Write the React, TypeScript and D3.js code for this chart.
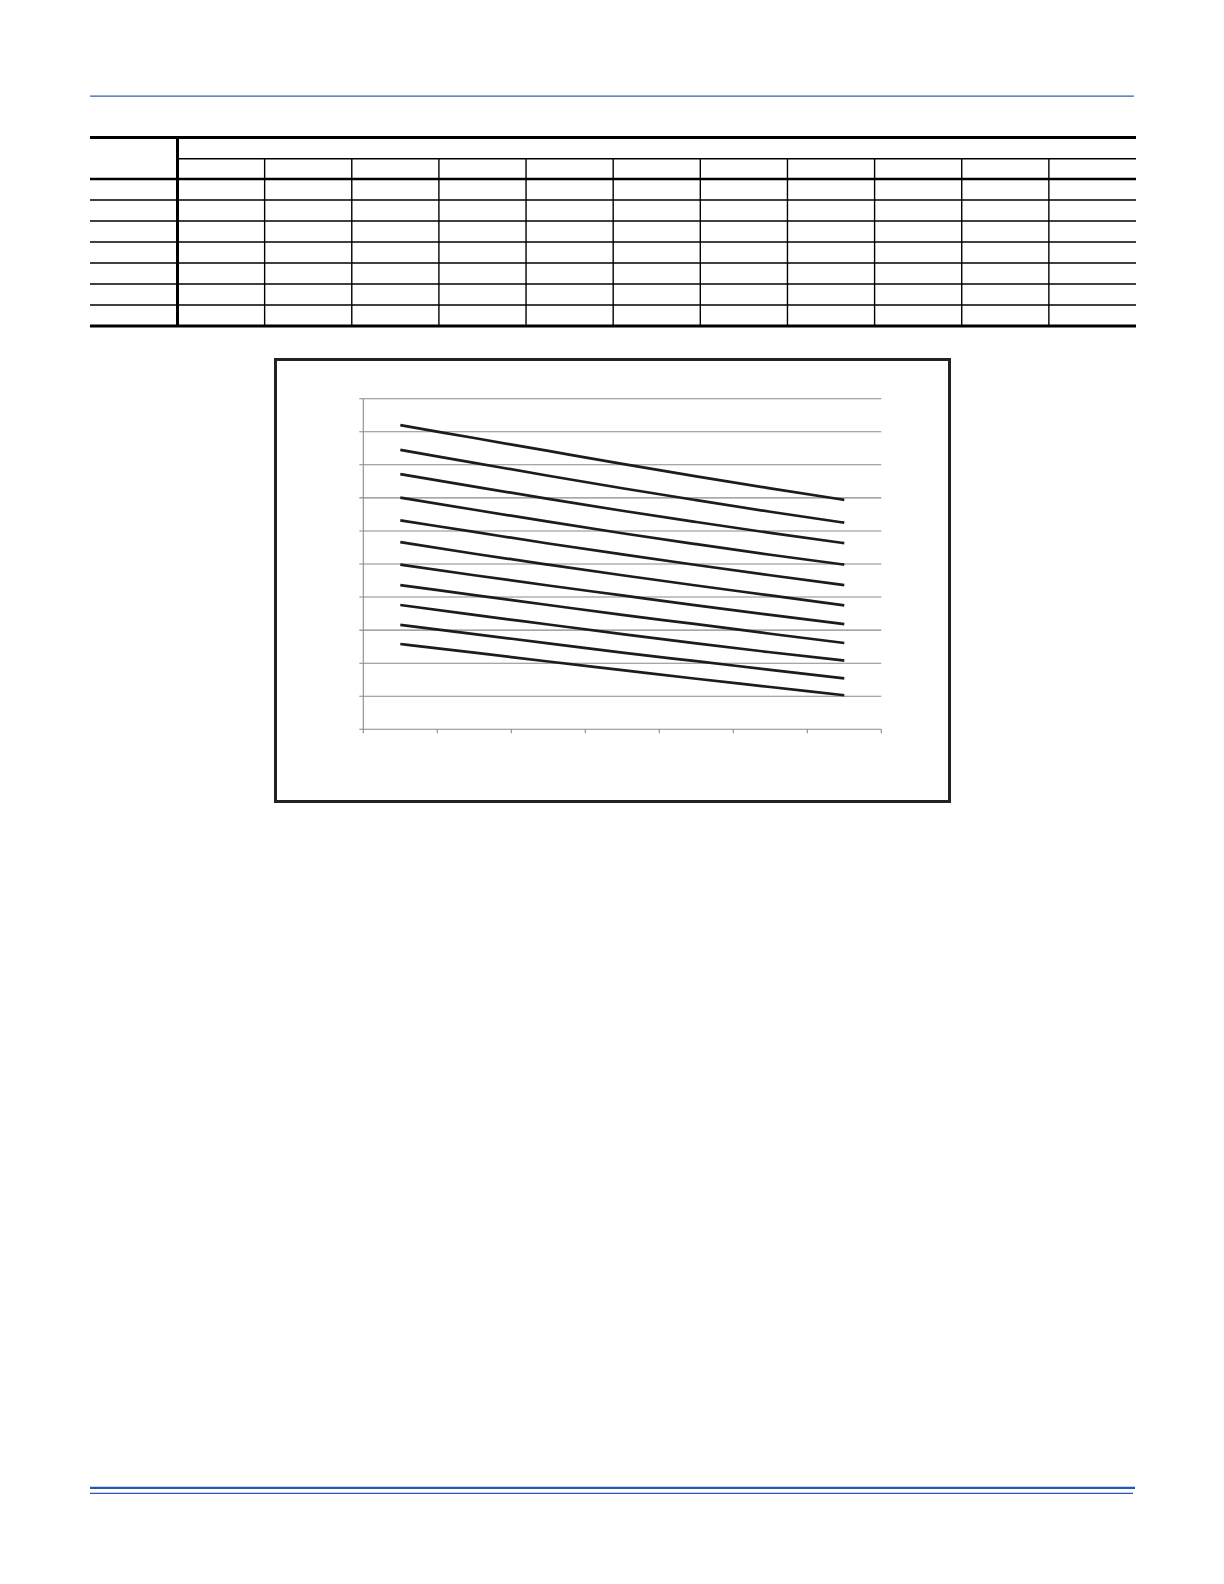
import React from 'react';
import * as d3 from 'd3';

// x categories (no labels printed in the source)
const categories = ['1', '2', '3', '4', '5', '6', '7'];

// eleven curves (y scale 0..100, 10 per grid step)
const curve1 = [92.0, 88.1, 84.2, 80.3, 76.5, 72.9, 69.4];
const curve2 = [84.5, 80.6, 76.7, 72.9, 69.3, 65.8, 62.5];
const curve3 = [77.2, 73.4, 69.7, 66.1, 62.7, 59.4, 56.3];
const curve4 = [70.1, 66.4, 62.8, 59.3, 56.0, 52.8, 49.8];
const curve5 = [63.2, 59.7, 56.2, 52.9, 49.7, 46.6, 43.6];
const curve6 = [56.6, 53.1, 49.8, 46.6, 43.5, 40.5, 37.5];
const curve7 = [49.8, 46.6, 43.5, 40.5, 37.5, 34.6, 31.8];
const curve8 = [43.6, 40.6, 37.6, 34.6, 31.8, 28.9, 26.1];
const curve9 = [37.6, 34.6, 31.7, 28.8, 26.0, 23.3, 20.8];
const curve10 = [31.6, 28.8, 26.0, 23.2, 20.6, 18.0, 15.4];
const curve11 = [25.8, 23.2, 20.5, 17.9, 15.3, 12.8, 10.3];

const curves = [curve1, curve2, curve3, curve4, curve5, curve6, curve7, curve8, curve9, curve10, curve11];

const yTicks = [0, 10, 20, 30, 40, 50, 60, 70, 80, 90, 100];

// empty table above the chart: 11 value columns, 7 body rows
const tableColumns = ['c1', 'c2', 'c3', 'c4', 'c5', 'c6', 'c7', 'c8', 'c9', 'c10', 'c11'];
const tableRows = ['r1', 'r2', 'r3', 'r4', 'r5', 'r6', 'r7'];

export default function App() {
  const W = 1224;
  const H = 1584;

  // table geometry
  const tLeft = 90;
  const tRight = 1136;
  const tTop = 137.5;
  const tSub = 158.7;
  const tHead = 179;
  const rowH = 21;
  const tBottom = tHead + rowH * tableRows.length;
  const firstCol = 177.5;

  const colScale = d3.scaleBand<string>()
    .domain(tableColumns)
    .range([firstCol, tRight]);

  // chart geometry
  const plot = { left: 363.3, right: 881.3, top: 398.7, bottom: 729.3 };

  const x = d3.scaleBand<string>()
    .domain(categories)
    .range([plot.left, plot.right]);

  const y = d3.scaleLinear()
    .domain([0, 100])
    .range([plot.bottom, plot.top]);

  const line = d3.line<number>()
    .x((_, i) => (x(categories[i]) as number) + x.bandwidth() / 2)
    .y(d => y(d))
    .curve(d3.curveMonotoneX);

  const xBoundaries = [...categories.map(c => x(c) as number), plot.right];

  return (
    <svg
      width={W}
      height={H}
      viewBox={`0 0 ${W} ${H}`}
      style={{ position: 'absolute', left: 0, top: 0, background: '#fff' }}
    >
      {/* header rule */}
      <line x1={90} x2={1134} y1={96.2} y2={96.2} stroke="#2f62ad" strokeWidth={1.3} />

      {/* table */}
      <g>
        {tableRows.map((r, i) => (
          i > 0 ? (
            <line key={r} x1={tLeft} x2={tRight} y1={tHead + rowH * i} y2={tHead + rowH * i}
              stroke="#000" strokeWidth={1.4} />
          ) : null
        ))}
        <line x1={firstCol} x2={tRight} y1={tSub} y2={tSub} stroke="#000" strokeWidth={1.4} />
        {tableColumns.slice(1).map(c => (
          <line key={c} x1={colScale(c)} x2={colScale(c)} y1={tSub} y2={tBottom}
            stroke="#000" strokeWidth={1.4} />
        ))}
        <line x1={tLeft} x2={tRight} y1={tTop} y2={tTop} stroke="#000" strokeWidth={3} />
        <line x1={tLeft} x2={tRight} y1={tHead} y2={tHead} stroke="#000" strokeWidth={2.6} />
        <line x1={tLeft} x2={tRight} y1={tBottom} y2={tBottom} stroke="#000" strokeWidth={3} />
        <line x1={firstCol} x2={firstCol} y1={tTop} y2={tBottom} stroke="#000" strokeWidth={3} />
      </g>

      {/* chart frame */}
      <rect x={275.5} y={359.5} width={674} height={442} fill="#fff" stroke="#222" strokeWidth={3} />

      {/* gridlines and y axis */}
      <g stroke="#8a8a8a" strokeWidth={1.1}>
        {yTicks.map(t => (
          <line key={t} x1={plot.left - 4} x2={plot.right} y1={y(t)} y2={y(t)} />
        ))}
        <line x1={plot.left} x2={plot.left} y1={plot.top} y2={plot.bottom} />
        {xBoundaries.map((bx, i) => (
          <line key={i} x1={bx} x2={bx} y1={plot.bottom} y2={plot.bottom + 4} />
        ))}
      </g>

      {/* curves */}
      <g fill="none" stroke="#1c1c1c" strokeWidth={2.7} strokeLinejoin="round">
        {curves.map((c, i) => (
          <path key={i} d={line(c) ?? ''} />
        ))}
      </g>

      {/* footer rules */}
      <line x1={90} x2={1135} y1={1487.9} y2={1487.9} stroke="#2457b8" strokeWidth={2.2} />
      <line x1={90} x2={1133} y1={1493.4} y2={1493.4} stroke="#2457b8" strokeWidth={1.1} />
    </svg>
  );
}
